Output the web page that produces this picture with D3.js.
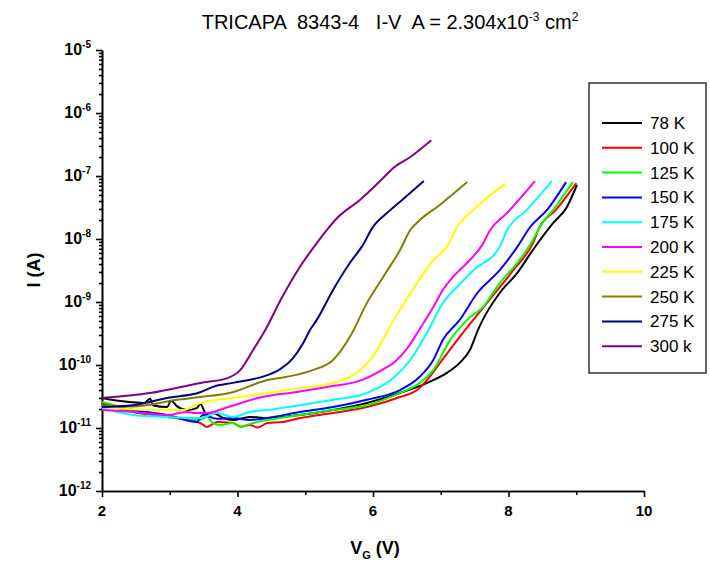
<!DOCTYPE html>
<html>
<head>
  <meta charset="utf-8">
  <title>TRICAPA 8343-4 I-V</title>
  <script src="https://cdn.jsdelivr.net/npm/d3@7"></script>
  <style>
    body { margin: 0; background: #fff; }
    text { font-family: "Liberation Sans", Arial, sans-serif; }
  </style>
</head>
<body>
<script>
  // legend labels, in drawing order
  var labels = ["78 K", "100 K", "125 K", "150 K", "175 K", "200 K", "225 K", "250 K", "275 K", "300 k"];
  var colors = ["#000000", "#ff0000", "#00ff00", "#0000ff", "#00ffff", "#ff00ff", "#ffff00", "#808000", "#000080", "#800080"];

  // gate voltage (V) and current (A)
  var v78 = [2.0, 2.37, 2.62, 2.71, 2.75, 2.96, 3.02, 3.11, 3.25, 3.40, 3.45, 3.55, 3.64, 3.79, 3.93, 4.18, 4.44, 4.92, 5.41, 5.91, 6.40, 6.80, 7.09, 7.28, 7.43, 7.55, 7.62, 7.87, 8.13, 8.36, 8.66, 8.86, 9.01];
  var i78 = [3.0e-11, 2.6e-11, 2.5e-11, 2.9e-11, 2.3e-11, 2.15e-11, 2.7e-11, 2.2e-11, 1.93e-11, 2.07e-11, 2.4e-11, 1.61e-11, 1.73e-11, 1.44e-11, 1.34e-11, 1.5e-11, 1.44e-11, 1.61e-11, 1.93e-11, 2.5e-11, 3.6e-11, 5.2e-11, 7.5e-11, 1.08e-10, 1.73e-10, 3.6e-10, 5.2e-10, 1.39e-9, 2.9e-9, 6.7e-9, 1.8e-8, 3.2e-8, 7.2e-8];

  var v100 = [2.0, 2.46, 2.96, 3.45, 3.55, 3.70, 3.93, 4.05, 4.18, 4.30, 4.44, 4.67, 4.92, 5.41, 5.91, 6.40, 6.65, 6.80, 6.99, 7.28, 7.68, 8.07, 8.36, 8.46, 8.70, 9.00];
  var i100 = [2.5e-11, 1.8e-11, 1.5e-11, 1.2e-11, 1.04e-11, 1.25e-11, 1.2e-11, 1.05e-11, 1.12e-11, 1.02e-11, 1.2e-11, 1.25e-11, 1.44e-11, 1.73e-11, 2.15e-11, 3.1e-11, 4.0e-11, 5.8e-11, 1.08e-10, 2.8e-10, 9.6e-10, 3.2e-9, 8.6e-9, 1.55e-8, 2.9e-8, 7.7e-8];

  var v125 = [2.0, 2.46, 2.96, 3.20, 3.45, 3.55, 3.64, 3.74, 3.93, 4.05, 4.14, 4.30, 4.44, 4.92, 5.41, 5.91, 6.40, 6.69, 6.89, 7.14, 7.39, 7.62, 7.87, 8.13, 8.36, 8.46, 8.66, 8.95];
  var i125 = [2.6e-11, 1.93e-11, 1.5e-11, 1.44e-11, 1.34e-11, 1.5e-11, 1.2e-11, 1.12e-11, 1.2e-11, 1.05e-11, 1.12e-11, 1.25e-11, 1.34e-11, 1.61e-11, 1.93e-11, 2.3e-11, 3.6e-11, 5.2e-11, 8.3e-11, 2.5e-10, 5.2e-10, 8.3e-10, 2.0e-9, 4.2e-9, 9.6e-9, 1.55e-8, 2.9e-8, 8.0e-8];

  var v150 = [2.0, 2.46, 2.96, 3.40, 3.49, 3.70, 3.93, 4.18, 4.44, 4.92, 5.41, 5.91, 6.40, 6.69, 6.89, 7.03, 7.28, 7.54, 7.87, 8.13, 8.32, 8.57, 8.85];
  var i150 = [2.3e-11, 1.93e-11, 1.61e-11, 1.25e-11, 1.61e-11, 1.4e-11, 1.44e-11, 1.34e-11, 1.44e-11, 1.8e-11, 2.15e-11, 2.8e-11, 4.0e-11, 6.5e-11, 1.2e-10, 2.5e-10, 5.2e-10, 1.39e-9, 3.2e-9, 7.5e-9, 1.55e-8, 2.9e-8, 8.0e-8];

  var v175 = [2.0, 2.46, 2.96, 3.45, 3.70, 3.93, 4.18, 4.44, 4.92, 5.41, 5.91, 6.30, 6.55, 6.80, 7.03, 7.24, 7.48, 7.87, 7.98, 8.27, 8.64];
  var i175 = [2.07e-11, 1.61e-11, 1.5e-11, 1.44e-11, 1.73e-11, 1.5e-11, 1.8e-11, 1.93e-11, 2.3e-11, 2.8e-11, 3.6e-11, 6.2e-11, 1.2e-10, 3.3e-10, 9.6e-10, 1.73e-9, 3.2e-9, 7.5e-9, 1.39e-8, 2.9e-8, 8.3e-8];

  var v200 = [2.0, 2.46, 2.96, 3.25, 3.37, 3.55, 3.86, 4.36, 4.85, 5.34, 5.84, 6.13, 6.32, 6.52, 6.65, 6.89, 7.03, 7.18, 7.39, 7.61, 7.73, 7.98, 8.39];
  var i200 = [1.93e-11, 1.8e-11, 1.61e-11, 1.8e-11, 1.73e-11, 1.73e-11, 2.15e-11, 3.1e-11, 3.7e-11, 4.5e-11, 5.8e-11, 8.3e-11, 1.12e-10, 1.93e-10, 3.2e-10, 8.3e-10, 1.55e-9, 2.5e-9, 4.2e-9, 8.0e-9, 1.39e-8, 2.6e-8, 8.3e-8];

  var v225 = [2.0, 2.71, 3.20, 3.45, 3.93, 4.44, 4.92, 5.41, 5.81, 6.06, 6.22, 6.40, 6.65, 6.89, 7.09, 7.24, 7.48, 7.95];
  var i225 = [2.15e-11, 1.93e-11, 1.93e-11, 2.5e-11, 3.0e-11, 3.6e-11, 4.3e-11, 5.2e-11, 8.3e-11, 1.73e-10, 3.6e-10, 7.5e-10, 2.0e-9, 4.6e-9, 7.5e-9, 1.55e-8, 2.9e-8, 7.5e-8];

  var v250 = [2.0, 2.46, 3.11, 3.45, 3.93, 4.44, 4.73, 5.11, 5.41, 5.66, 5.91, 6.15, 6.40, 6.55, 6.69, 6.99, 7.39];
  var i250 = [2.3e-11, 2.2e-11, 2.8e-11, 3.1e-11, 3.7e-11, 5.8e-11, 6.5e-11, 8.3e-11, 1.2e-10, 2.8e-10, 9.6e-10, 2.5e-9, 6.7e-9, 1.39e-8, 2.0e-8, 3.5e-8, 8.0e-8];

  var v275 = [2.0, 2.46, 2.96, 3.45, 3.64, 3.93, 4.44, 4.63, 4.82, 4.97, 5.07, 5.17, 5.41, 5.66, 5.85, 5.99, 6.21, 6.40, 6.75];
  var i275 = [2.15e-11, 2.3e-11, 3.0e-11, 3.7e-11, 4.5e-11, 5.2e-11, 6.9e-11, 8.6e-11, 1.29e-10, 2.23e-10, 3.6e-10, 5.2e-10, 1.55e-9, 4.2e-9, 8.0e-9, 1.5e-8, 2.6e-8, 3.9e-8, 8.3e-8];

  var v300 = [2.0, 2.71, 3.45, 3.85, 4.04, 4.23, 4.41, 4.66, 4.92, 5.17, 5.32, 5.47, 5.81, 6.15, 6.30, 6.55, 6.86];
  var i300 = [3.0e-11, 3.6e-11, 5.2e-11, 6.2e-11, 8.3e-11, 1.73e-10, 3.6e-10, 1.2e-9, 3.6e-9, 8.6e-9, 1.39e-8, 2.15e-8, 4.2e-8, 9.3e-8, 1.34e-7, 2.0e-7, 3.7e-7];

  var xTicks = [2, 4, 6, 8, 10];
  var xMinor = [3, 5, 7, 9];
  var yExps = [-12, -11, -10, -9, -8, -7, -6, -5];

  var volts = [v78, v100, v125, v150, v175, v200, v225, v250, v275, v300];
  var amps = [i78, i100, i125, i150, i175, i200, i225, i250, i275, i300];

  var width = 710;
  var height = 561;

  var svg = d3.select("body")
    .append("svg")
    .attr("width", width)
    .attr("height", height);

  var xScale = d3.scaleLinear()
    .domain([2, 10])
    .range([102, 644]);

  var yScale = d3.scaleLog()
    .domain([1e-12, 1e-5])
    .range([491, 50]);

  // minor ticks on the log axis: 2..9 in every decade
  var yMinor = [];
  yExps.slice(0, -1).forEach(function(e) {
    for (var m = 2; m <= 9; m++) yMinor.push(m * Math.pow(10, e));
  });

  svg.append("g")
    .attr("transform", "translate(0," + 491 + ")")
    .call(d3.axisBottom(xScale).tickValues(xTicks).tickSize(6).tickSizeOuter(0).tickFormat(""));
  svg.append("g")
    .attr("transform", "translate(0," + 491 + ")")
    .call(d3.axisBottom(xScale).tickValues(xMinor).tickSize(4).tickSizeOuter(0).tickFormat(""));

  svg.append("g")
    .attr("transform", "translate(" + 102 + ",0)")
    .call(d3.axisLeft(yScale).tickValues(yExps.map(function(e) { return Math.pow(10, e); })).tickSize(6).tickSizeOuter(0).tickFormat(""));
  svg.append("g")
    .attr("transform", "translate(" + 102 + ",0)")
    .call(d3.axisLeft(yScale).tickValues(yMinor).tickSize(3).tickSizeOuter(0).tickFormat(""));

  svg.selectAll(".domain, .tick line")
    .attr("stroke", "#000")
    .attr("stroke-width", 1.6);

  // x tick labels
  svg.append("g")
    .selectAll("text")
    .data(xTicks)
    .enter()
    .append("text")
    .attr("x", function(d) { return xScale(d); })
    .attr("y", 516)
    .attr("text-anchor", "middle")
    .attr("font-size", "15px")
    .attr("font-weight", "bold")
    .text(function(d) { return d; });

  // y tick labels 10^n
  var yLab = svg.append("g")
    .selectAll("text")
    .data(yExps)
    .enter()
    .append("text")
    .attr("x", 91)
    .attr("y", function(d) { return yScale(Math.pow(10, d)) + 5; })
    .attr("text-anchor", "end")
    .attr("font-size", "16px")
    .attr("font-weight", "bold");
  yLab.append("tspan").text("10");
  yLab.append("tspan")
    .attr("dy", -7)
    .attr("font-size", "10px")
    .text(function(d) { return d; });

  // curves
  var line = d3.line()
    .x(function(d) { return xScale(d[0]); })
    .y(function(d) { return yScale(d[1]); })
    .curve(d3.curveMonotoneX);

  svg.append("g")
    .selectAll("path")
    .data(volts.map(function(v, k) { return v.map(function(x, j) { return [x, amps[k][j]]; }); }))
    .enter()
    .append("path")
    .attr("d", line)
    .attr("fill", "none")
    .attr("stroke", function(d, k) { return colors[k]; })
    .attr("stroke-width", 2)
    .attr("stroke-linejoin", "round");

  // title
  var title = svg.append("text")
    .attr("x", 390)
    .attr("y", 29)
    .attr("text-anchor", "middle")
    .attr("font-size", "20px")
    .style("white-space", "pre");
  title.append("tspan").text("TRICAPA  8343-4   I-V  A = 2.304x10");
  title.append("tspan").attr("dy", -8).attr("font-size", "12px").text("-3");
  title.append("tspan").attr("dy", 8).text(" cm");
  title.append("tspan").attr("dy", -8).attr("font-size", "12px").text("2");

  // axis titles
  var xt = svg.append("text")
    .attr("x", 375)
    .attr("y", 554)
    .attr("text-anchor", "middle")
    .attr("font-size", "18px")
    .attr("font-weight", "bold");
  xt.append("tspan").text("V");
  xt.append("tspan").attr("dy", 5).attr("font-size", "11px").text("G");
  xt.append("tspan").attr("dy", -5).text(" (V)");

  svg.append("text")
    .attr("transform", "translate(40,270) rotate(-90)")
    .attr("text-anchor", "middle")
    .attr("font-size", "18px")
    .attr("font-weight", "bold")
    .text("I (A)");

  // legend
  var legend = svg.append("g");
  legend.append("rect")
    .attr("x", 589)
    .attr("y", 83)
    .attr("width", 117)
    .attr("height", 290)
    .attr("fill", "#fff")
    .attr("stroke", "#000")
    .attr("stroke-width", 1.2);

  var item = legend.selectAll("g.item")
    .data(labels)
    .enter()
    .append("g")
    .attr("class", "item")
    .attr("transform", function(d, k) { return "translate(0," + (123 + k * 24.8) + ")"; });
  item.append("line")
    .attr("x1", 602)
    .attr("x2", 642)
    .attr("stroke", function(d, k) { return colors[k]; })
    .attr("stroke-width", 2);
  item.append("text")
    .attr("x", 650)
    .attr("y", 6)
    .attr("font-size", "17px")
    .text(function(d) { return d; });
</script>
</body>
</html>
